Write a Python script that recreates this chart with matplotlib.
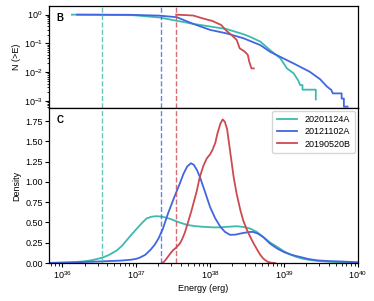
import numpy as np
import matplotlib
matplotlib.use("Agg")
import matplotlib.pyplot as plt
from matplotlib.ticker import FormatStrFormatter, LogLocator

plt.rcParams['font.family'] = ['Liberation Sans', 'DejaVu Sans']
plt.rcParams['mathtext.fontset'] = 'custom'
plt.rcParams['mathtext.rm'] = 'Liberation Sans'
plt.rcParams['mathtext.it'] = 'Liberation Sans:italic'

names = ['20201124A', '20121102A', '20190520B']
colors = ['#3dbaae', '#4266e0', '#cd4a50']

# vertical dashed lines (log10 energy)
vline_logE = [36.54, 37.34, 37.54]

# cumulative N(>E): log10 E, log10 N
cum_cyan_x = [36.13, 36.5, 36.95, 37.01, 37.32, 37.46, 37.77, 38.22, 38.45, 38.54, 38.68,
              38.81, 38.95, 39.04, 39.13, 39.19, 39.22, 39.25, 39.25, 39.43, 39.43]
cum_cyan_y = [0.0, -0.005, -0.02, -0.03, -0.10, -0.17, -0.32, -0.50, -0.68, -0.77, -0.94,
              -1.23, -1.52, -1.87, -2.04, -2.28, -2.45, -2.45, -2.61, -2.61, -2.95]
cum_blue_x = [36.2, 36.9, 37.32, 37.55, 37.77, 38.0, 38.22, 38.45, 38.68, 38.81, 38.99,
              39.17, 39.35, 39.49, 39.58, 39.64, 39.66, 39.78, 39.78, 39.81, 39.81, 39.86]
cum_blue_y = [0.0, -0.005, -0.035, -0.09, -0.32, -0.53, -0.65, -0.82, -1.06, -1.29, -1.52,
              -1.75, -1.99, -2.25, -2.5, -2.62, -2.74, -2.74, -2.92, -2.92, -3.2, -3.2]
cum_red_x = [37.54, 37.77, 37.9, 38.03, 38.15, 38.22, 38.29, 38.36, 38.40, 38.47, 38.51,
             38.53, 38.56, 38.59]
cum_red_y = [0.0, -0.03, -0.13, -0.22, -0.36, -0.56, -0.71, -0.88, -1.17, -1.29, -1.40,
             -1.64, -1.87, -1.87]

# density curves: log10 E, density
den_cyan_x = [35.82, 36.0, 36.15, 36.3, 36.38, 36.46, 36.54, 36.62, 36.68, 36.74, 36.81,
              36.87, 36.94, 37.01, 37.08, 37.14, 37.21, 37.28, 37.36, 37.46, 37.57, 37.69,
              37.8, 37.92, 38.04, 38.14, 38.25, 38.36, 38.45, 38.54, 38.63, 38.72, 38.81,
              38.91, 39.0, 39.08, 39.16, 39.25, 39.37, 39.49, 39.62, 39.76, 40.0]
den_cyan_y = [0.0, 0.004, 0.01, 0.022, 0.033, 0.048, 0.067, 0.095, 0.125, 0.157, 0.215,
              0.28, 0.355, 0.426, 0.495, 0.55, 0.572, 0.578, 0.57, 0.545, 0.505, 0.47,
              0.455, 0.446, 0.44, 0.44, 0.448, 0.454, 0.445, 0.426, 0.385, 0.32, 0.255,
              0.198, 0.145, 0.108, 0.078, 0.054, 0.035, 0.025, 0.016, 0.01, 0.003]
den_blue_x = [35.82, 36.0, 36.24, 36.51, 36.78, 36.92, 37.0, 37.05, 37.12, 37.19, 37.25,
              37.30, 37.36, 37.43, 37.51, 37.59, 37.64, 37.69, 37.74, 37.78, 37.82, 37.86,
              37.93, 38.0, 38.07, 38.14, 38.2, 38.27, 38.34, 38.40, 38.45, 38.52, 38.58,
              38.65, 38.72, 38.81, 38.91, 39.0, 39.08, 39.15, 39.22, 39.33, 39.45, 39.6,
              39.76, 40.0]
den_blue_y = [0.003, 0.006, 0.012, 0.02, 0.03, 0.04, 0.052, 0.068, 0.1, 0.16, 0.225,
              0.30, 0.42, 0.61, 0.80, 0.98, 1.1, 1.19, 1.23, 1.21, 1.15, 1.065,
              0.88, 0.69, 0.55, 0.446, 0.385, 0.348, 0.35, 0.362, 0.371, 0.382, 0.384,
              0.362, 0.32, 0.24, 0.178, 0.135, 0.108, 0.09, 0.075, 0.05, 0.033, 0.025,
              0.02, 0.01]
den_red_x = [37.35, 37.38, 37.41, 37.46, 37.5, 37.54, 37.59, 37.62, 37.66, 37.7, 37.74,
             37.77, 37.82, 37.86, 37.91, 37.955, 38.0, 38.03, 38.07, 38.1, 38.14, 38.17,
             38.2, 38.23, 38.26, 38.29, 38.32, 38.36, 38.41, 38.45, 38.50, 38.55, 38.59,
             38.64, 38.68, 38.72, 38.77, 38.82, 38.88]
den_red_y = [0.0, 0.02, 0.054, 0.116, 0.16, 0.19, 0.24, 0.29, 0.38, 0.5, 0.62,
             0.72, 0.89, 1.06, 1.2, 1.29, 1.34, 1.39, 1.48, 1.6, 1.72, 1.77,
             1.74, 1.65, 1.45, 1.25, 1.05, 0.85, 0.65, 0.52, 0.405, 0.31, 0.24,
             0.16, 0.10, 0.055, 0.02, 0.005, 0.0]

cum = [(cum_cyan_x, cum_cyan_y), (cum_blue_x, cum_blue_y), (cum_red_x, cum_red_y)]
den = [(den_cyan_x, den_cyan_y), (den_blue_x, den_blue_y), (den_red_x, den_red_y)]

fig = plt.figure(figsize=(3.74, 3.01), dpi=100)
ax1 = fig.add_axes([0.131, 0.641, 0.826, 0.339])
ax2 = fig.add_axes([0.131, 0.126, 0.826, 0.515], sharex=ax1)

for (x, y), c in zip(cum, colors):
    ax1.plot(10 ** np.array(x), 10 ** np.array(y), color=c, lw=1.3)
for (x, y), c, n in zip(den, colors, names):
    ax2.plot(10 ** np.array(x), y, color=c, lw=1.3, label=n)

for ax in (ax1, ax2):
    for v, c in zip(vline_logE, colors):
        ax.axvline(10 ** v, color=c, ls='--', lw=1.0, alpha=0.8)
    ax.tick_params(labelsize=6.5, width=0.8, length=3, pad=1.5)
    ax.tick_params(which='minor', width=0.6, length=1.8)
    for s in ax.spines.values():
        s.set_linewidth(0.9)

ax1.set_xscale('log')
ax1.set_yscale('log')
ax1.set_xlim(10 ** 35.82, 1e40)
ax1.set_ylim(10 ** -3.25, 10 ** 0.3)
ax1.yaxis.set_major_locator(LogLocator(base=10, numticks=10))
ax1.yaxis.set_minor_locator(LogLocator(base=10, subs=np.arange(2, 10), numticks=10))
ax1.set_ylabel('N (>E)', fontsize=6.5, labelpad=2)
ax1.tick_params(axis='x', which='both', labelbottom=False, bottom=False)
ax1.text(0.025, 0.93, 'B', transform=ax1.transAxes, fontsize=7, fontweight='bold',
         va='top', ha='left')

ax2.set_ylim(0, 1.91)
ax2.set_yticks([0, 0.25, 0.5, 0.75, 1.0, 1.25, 1.5, 1.75])
ax2.yaxis.set_major_formatter(FormatStrFormatter('%.2f'))
ax2.xaxis.set_major_locator(LogLocator(base=10, numticks=10))
ax2.xaxis.set_minor_locator(LogLocator(base=10, subs=np.arange(2, 10), numticks=10))
ax2.set_ylabel('Density', fontsize=6.5, labelpad=3)
ax2.set_xlabel('Energy (erg)', fontsize=6.5, labelpad=2)
ax2.text(0.025, 0.955, 'C', transform=ax2.transAxes, fontsize=7, fontweight='bold',
         va='top', ha='left')
ax2.legend(loc='upper right', fontsize=6.5, handlelength=2.3, borderpad=0.5,
           labelspacing=0.35, frameon=True, borderaxespad=0.3)

fig.savefig('out.png', dpi=100)
